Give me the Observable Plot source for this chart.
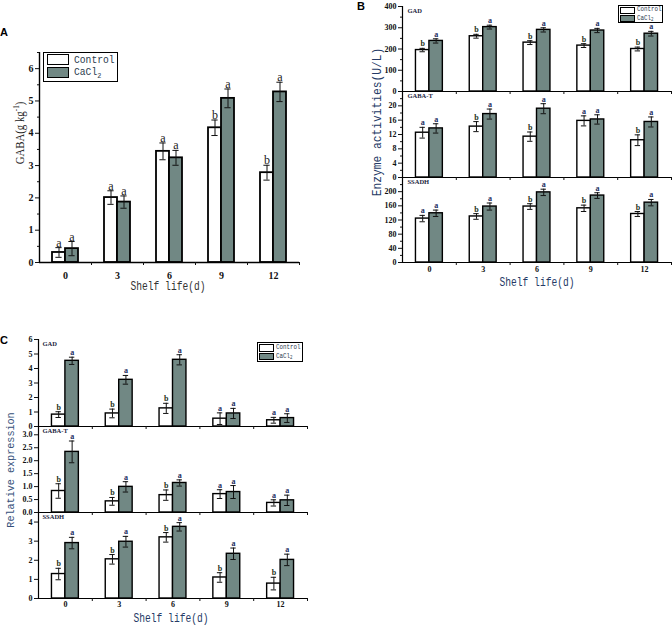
<!DOCTYPE html>
<html>
<head>
<meta charset="utf-8">
<script src="https://cdn.jsdelivr.net/npm/d3@7"></script>
<script src="https://cdn.jsdelivr.net/npm/@observablehq/plot@0.6"></script>
<style>
  html,body{margin:0;padding:0;background:#fff;}
  #fig{position:relative;width:672px;height:625px;overflow:hidden;background:#fff;}
  #fig svg{position:absolute;overflow:visible;}
  .t{position:absolute;white-space:nowrap;line-height:1;}
  .t sub{font-size:70%;line-height:0;vertical-align:-0.3em;}
  .t sup{line-height:0;}
  .box{position:absolute;box-sizing:border-box;}
</style>
</head>
<body>
<div id="fig"></div>
<script>
// ---------- data ----------
const days = ["0", "3", "6", "9", "12"];
const groupNames = ["Control", "CaCl<sub>2</sub>"];

// Panel A: GABA content (g kg-1)
const gabaCtrl = [0.31, 2.01, 3.44, 4.17, 2.78];
const gabaCtrlErr = [0.15, 0.21, 0.26, 0.24, 0.23];
const gabaCacl = [0.43, 1.87, 3.24, 5.08, 5.28];
const gabaCaclErr = [0.22, 0.19, 0.23, 0.29, 0.30];
const gabaCtrlLetters = ["a", "a", "a", "b", "b"];
const gabaCaclLetters = ["a", "a", "a", "a", "a"];

// Panel B: enzyme activities (U/L)
const gadActCtrl = [195, 260, 230, 216, 200];
const gadActCtrlErr = [8, 9, 9, 9, 9];
const gadActCacl = [238, 303, 290, 287, 272];
const gadActCaclErr = [10, 9, 10, 10, 11];
const gadActCtrlLetters = ["b", "b", "b", "b", "b"];
const gadActCaclLetters = ["a", "a", "a", "a", "a"];

const gabatActCtrl = [12.5, 14.2, 11.4, 15.8, 10.4];
const gabatActCtrlErr = [1.5, 1.4, 1.3, 1.4, 1.5];
const gabatActCacl = [13.7, 17.7, 19.2, 16.2, 15.5];
const gabatActCaclErr = [1.3, 1.4, 1.4, 1.3, 1.4];
const gabatActCtrlLetters = ["a", "b", "b", "a", "b"];
const gabatActCaclLetters = ["a", "a", "a", "a", "a"];

const ssadhActCtrl = [124, 130, 158, 153, 137];
const ssadhActCtrlErr = [9, 8, 8, 9, 7];
const ssadhActCacl = [139, 158, 198, 189, 169];
const ssadhActCaclErr = [9, 10, 9, 8, 9];
const ssadhActCtrlLetters = ["a", "b", "b", "b", "b"];
const ssadhActCaclLetters = ["a", "a", "a", "a", "a"];

// Panel C: relative expression
const gadExpCtrl = [0.82, 0.90, 1.25, 0.54, 0.43];
const gadExpCtrlErr = [0.20, 0.30, 0.35, 0.40, 0.20];
const gadExpCacl = [4.53, 3.22, 4.60, 0.90, 0.58];
const gadExpCaclErr = [0.25, 0.30, 0.35, 0.35, 0.30];
const gadExpCtrlLetters = ["b", "b", "b", "a", "a"];
const gadExpCaclLetters = ["a", "a", "a", "a", "a"];

const gabatExpCtrl = [0.83, 0.43, 0.67, 0.71, 0.37];
const gabatExpCtrlErr = [0.28, 0.15, 0.20, 0.17, 0.12];
const gabatExpCacl = [2.34, 0.99, 1.14, 0.79, 0.47];
const gabatExpCaclErr = [0.42, 0.20, 0.12, 0.25, 0.20];
const gabatExpCtrlLetters = ["b", "b", "b", "a", "a"];
const gabatExpCaclLetters = ["a", "a", "a", "a", "a"];

const ssadhExpCtrl = [1.28, 2.05, 3.20, 1.10, 0.78];
const ssadhExpCtrlErr = [0.30, 0.25, 0.25, 0.25, 0.33];
const ssadhExpCacl = [2.90, 2.97, 3.75, 2.34, 2.02];
const ssadhExpCaclErr = [0.30, 0.28, 0.22, 0.30, 0.30];
const ssadhExpCtrlLetters = ["b", "b", "b", "b", "b"];
const ssadhExpCaclLetters = ["a", "a", "a", "a", "a"];

// ---------- drawing ----------
const CACL_FILL = "#718884";
const fig = document.getElementById("fig");

function barPanel(o) {
  const rows = days.flatMap((d, i) => [
    {i, g: 0, v: o.ctrl[i], e: o.ctrlErr[i], l: o.ctrlLet[i]},
    {i, g: 1, v: o.cacl[i], e: o.caclErr[i], l: o.caclLet[i]}
  ]);
  const W = 0.25, cap = o.cap;
  const cx = r => r.i + (r.g === 0 ? -W / 2 : W / 2);
  const tf = {fontSize: o.tickFs, fontWeight: o.tickFw, fontFamily: "Liberation Serif"};
  const marks = [
    Plot.rectY(rows.filter(r => r.g === 0), {x1: r => r.i - W, x2: r => r.i, y1: 0, y2: "v", fill: "#fff", stroke: "#000", strokeWidth: o.sw}),
    Plot.rectY(rows.filter(r => r.g === 1), {x1: r => r.i, x2: r => r.i + W, y1: 0, y2: "v", fill: CACL_FILL, stroke: "#000", strokeWidth: o.sw}),
    Plot.ruleX(rows, {x: cx, y1: r => r.v - r.e, y2: r => r.v + r.e, stroke: "#111", strokeWidth: 1}),
    Plot.ruleY(rows, {y: r => r.v + r.e, x1: r => cx(r) - cap, x2: r => cx(r) + cap, stroke: "#111", strokeWidth: 1}),
    Plot.ruleY(rows, {y: r => r.v - r.e, x1: r => cx(r) - cap, x2: r => cx(r) + cap, stroke: "#111", strokeWidth: 1}),
    Plot.text(rows.filter(r => r.l === "a"), {x: cx, y: r => r.v + r.e, text: "l", dy: -o.letGap, lineAnchor: "bottom", fontSize: o.letFs, fontWeight: o.letFw, fill: o.aCol}),
    Plot.text(rows.filter(r => r.l === "b"), {x: cx, y: r => r.v + r.e, text: "l", dy: -o.letGap, lineAnchor: "bottom", fontSize: o.letFs, fontWeight: o.letFw, fill: o.bCol}),
    Plot.ruleX([-0.5], {stroke: "#000", strokeWidth: o.axW}),
    Plot.ruleY([0], {stroke: "#000", strokeWidth: o.axW}),
    Plot.axisY({ticks: o.yTicks, tickSize: 4, tickPadding: 2, tickFormat: o.fmt, ...tf, color: "#111", label: null}),
    Plot.axisX({ticks: [0.5, 1.5, 2.5, 3.5, 4.5], tickSize: 3, tickFormat: () => "", color: "#111", label: null})
  ];
  if (o.minor) marks.push(Plot.axisY({ticks: o.minor, tickSize: 2, tickFormat: () => "", color: "#111", label: null}));
  if (o.xLabels) marks.push(Plot.axisX({ticks: [0, 1, 2, 3, 4], tickSize: 0, tickPadding: o.xPad, tickFormat: i => days[i], ...tf, color: "#111", label: null}));
  if (o.title) marks.push(Plot.text([o.title], {frameAnchor: "top-left", dx: o.titleDx, dy: o.titleDy, text: d => d, fontSize: o.titleFs, fontWeight: "bold", fill: "#1b2440", lineAnchor: "top", textAnchor: "start"}));
  const svg = Plot.plot({
    width: o.width, height: o.height,
    marginLeft: o.ml, marginRight: o.mr, marginTop: o.mt, marginBottom: o.mb,
    x: {domain: [-0.5, 4.5], label: null},
    y: {domain: o.yDomain, label: null},
    style: {background: "transparent", fontFamily: "Liberation Serif", overflow: "visible"},
    marks
  });
  svg.style.left = o.left + "px";
  svg.style.top = o.top + "px";
  fig.appendChild(svg);
}

function txt(html, x, y, css, opts = {}) {
  const d = document.createElement("div");
  d.className = "t";
  d.innerHTML = html;
  Object.assign(d.style, css);
  d.style.left = x + "px";
  d.style.top = y + "px";
  const sx = opts.sx ? ` scaleX(${opts.sx})` : "";
  if (opts.left) {
    d.style.transformOrigin = "left center";
    d.style.transform = `translate(0,-50%)${sx}`;
  } else {
    d.style.transform = `translate(-50%,-50%)${opts.rot ? " rotate(-90deg)" : ""}${sx}`;
  }
  fig.appendChild(d);
}

function box(x, y, w, h, border, bg) {
  const d = document.createElement("div");
  d.className = "box";
  Object.assign(d.style, {left: x + "px", top: y + "px", width: w + "px", height: h + "px", border: border, background: bg});
  fig.appendChild(d);
}

function legend(L) {
  box(L.x, L.y, L.w, L.h, `${L.bw}px solid #000`, "#fff");
  [0, 1].forEach(k => {
    box(L.sx, L.sy[k], L.sw, L.sh, `${L.sbw}px solid #000`, k === 0 ? "#fff" : CACL_FILL);
    txt(groupNames[k], L.tx, L.ty[k], {fontFamily: "Liberation Mono", fontSize: L.fs + "px", color: "#2b3a4e"}, {left: true, sx: L.scale});
  });
}

const common = {cap: 0.06, xLabels: false};

// ----- Panel A -----
barPanel({...common, left: 0, top: 0, width: 310, height: 300, ml: 39, mr: 11, mt: 52, mb: 38,
  yDomain: [0, 6.5], yTicks: [0, 1, 2, 3, 4, 5, 6], minor: [0.5, 1.5, 2.5, 3.5, 4.5, 5.5, 6.5], fmt: d => d,
  ctrl: gabaCtrl, ctrlErr: gabaCtrlErr, cacl: gabaCacl, caclErr: gabaCaclErr, ctrlLet: gabaCtrlLetters, caclLet: gabaCaclLetters,
  tickFs: 10, tickFw: "bold", sw: 1.8, axW: 1.4, letFs: 12, letFw: "normal", letGap: 1, aCol: "#222", bCol: "#222",
  xLabels: true, xPad: 9});
legend({x: 43, y: 52, w: 75, h: 30, bw: 1.3, sx: 47, sy: [54, 67], sw: 22, sh: 11, sbw: 1.5, tx: 74, ty: [59.5, 72], fs: 11.5, scale: 0.84});
txt("A", 4, 32, {fontFamily: "Liberation Sans", fontWeight: "bold", fontSize: "11px", color: "#000"});
txt("GABA(g&nbsp;kg<sup style='font-size:8px'>-1</sup>)", 20, 133, {fontFamily: "Liberation Serif", fontSize: "12px", color: "#222"}, {rot: true, sx: 0.9});
txt("Shelf life(d)", 168, 287, {fontFamily: "Liberation Mono", fontSize: "12px", color: "#333"}, {sx: 0.8});

// ----- Panel B -----
const bCommon = {...common, left: 330, width: 342, ml: 72, mr: 1, mt: 6, cap: 0.05,
  tickFs: 8, tickFw: "bold", sw: 1.4, axW: 1.2, letFs: 8, letFw: "bold", letGap: 2, aCol: "#1d2f63", bCol: "#263320",
  titleDx: 5, titleDy: 2, titleFs: 6.5};
barPanel({...bCommon, top: 0, height: 95, mb: 4, yDomain: [0, 400], yTicks: [0, 100, 200, 300, 400], minor: [50, 150, 250, 350], fmt: d => d,
  ctrl: gadActCtrl, ctrlErr: gadActCtrlErr, cacl: gadActCacl, caclErr: gadActCaclErr, ctrlLet: gadActCtrlLetters, caclLet: gadActCaclLetters, title: "GAD"});
barPanel({...bCommon, top: 85, height: 96, mb: 4, yDomain: [0, 24], yTicks: [0, 4, 8, 12, 16, 20], minor: [2, 6, 10, 14, 18, 22], fmt: d => d,
  ctrl: gabatActCtrl, ctrlErr: gabatActCtrlErr, cacl: gabatActCacl, caclErr: gabatActCaclErr, ctrlLet: gabatActCtrlLetters, caclLet: gabatActCaclLetters, title: "GABA-T"});
barPanel({...bCommon, top: 171, height: 129, mb: 38, yDomain: [0, 240], yTicks: [0, 40, 80, 120, 160, 200], minor: [20, 60, 100, 140, 180, 220], fmt: d => d,
  ctrl: ssadhActCtrl, ctrlErr: ssadhActCtrlErr, cacl: ssadhActCacl, caclErr: ssadhActCaclErr, ctrlLet: ssadhActCtrlLetters, caclLet: ssadhActCaclLetters, title: "SSADH",
  xLabels: true, xPad: 4});
legend({x: 618, y: 5, w: 45, h: 18, bw: 1, sx: 620, sy: [6.5, 14.5], sw: 15, sh: 7, sbw: 1, tx: 637, ty: [10, 18.5], fs: 6.5, scale: 0.9});
txt("B", 361, 6, {fontFamily: "Liberation Sans", fontWeight: "bold", fontSize: "11px", color: "#000"});
txt("Enzyme activities(U/L)", 378, 122, {fontFamily: "Liberation Mono", fontSize: "12.5px", color: "#253a66"}, {rot: true, sx: 0.9});
txt("Shelf life(d)", 537, 283, {fontFamily: "Liberation Mono", fontSize: "12px", color: "#253a66"}, {sx: 0.8});

// ----- Panel C -----
const cCommon = {...common, left: 0, width: 310, ml: 38, mr: 3, mt: 6, cap: 0.05,
  tickFs: 8, tickFw: "bold", sw: 1.4, axW: 1.2, letFs: 8, letFw: "bold", letGap: 2, aCol: "#1d2f63", bCol: "#263320",
  titleDx: 4, titleDy: 2, titleFs: 6.5};
barPanel({...cCommon, top: 333, height: 97, mb: 4, yDomain: [0, 6], yTicks: [0, 1, 2, 3, 4, 5, 6], fmt: d => d,
  ctrl: gadExpCtrl, ctrlErr: gadExpCtrlErr, cacl: gadExpCacl, caclErr: gadExpCaclErr, ctrlLet: gadExpCtrlLetters, caclLet: gadExpCaclLetters, title: "GAD"});
barPanel({...cCommon, top: 420, height: 96, mb: 4, yDomain: [0, 3.32], yTicks: [0, 0.5, 1, 1.5, 2, 2.5, 3], fmt: d => d.toFixed(1),
  ctrl: gabatExpCtrl, ctrlErr: gabatExpCtrlErr, cacl: gabatExpCacl, caclErr: gabatExpCaclErr, ctrlLet: gabatExpCtrlLetters, caclLet: gabatExpCaclLetters, title: "GABA-T"});
barPanel({...cCommon, top: 506, height: 119, mb: 27, yDomain: [0, 4.5], yTicks: [0, 1, 2, 3, 4], fmt: d => d,
  ctrl: ssadhExpCtrl, ctrlErr: ssadhExpCtrlErr, cacl: ssadhExpCacl, caclErr: ssadhExpCaclErr, ctrlLet: ssadhExpCtrlLetters, caclLet: ssadhExpCaclLetters, title: "SSADH",
  xLabels: true, xPad: 3});
legend({x: 257, y: 342, w: 46, h: 20, bw: 1, sx: 259, sy: [344, 352.5], sw: 15, sh: 7.5, sbw: 1, tx: 276, ty: [347.5, 356.5], fs: 6.5, scale: 0.9});
txt("C", 4, 340, {fontFamily: "Liberation Sans", fontWeight: "bold", fontSize: "11px", color: "#000"});
txt("Relative expression", 11, 470, {fontFamily: "Liberation Mono", fontSize: "11.5px", color: "#34507a"}, {rot: true, sx: 0.88});
txt("Shelf life(d)", 171, 619, {fontFamily: "Liberation Mono", fontSize: "12px", color: "#253a66"}, {sx: 0.8});
</script>
</body>
</html>
